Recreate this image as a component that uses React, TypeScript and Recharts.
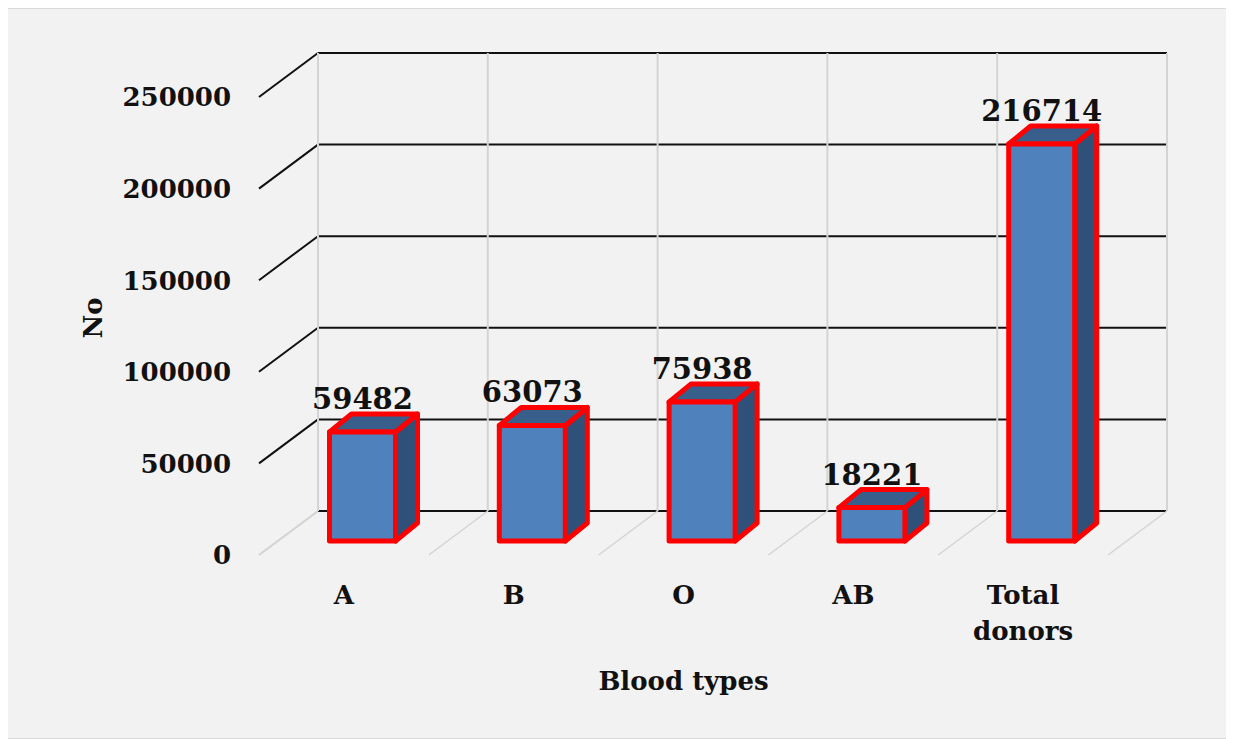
import React from 'react';
import { BarChart, Bar, XAxis, YAxis, CartesianGrid, LabelList } from 'recharts';

// values
const bloodTypes = ['A', 'B', 'O', 'AB', 'Total donors'];
const donorCounts = [59482, 63073, 75938, 18221, 216714];
const yTicks = [0, 50000, 100000, 150000, 200000, 250000];

const chartData = bloodTypes.map((type, i) => ({ type, donors: donorCounts[i] }));

const FONT = '"DejaVu Serif", "Liberation Serif", serif';

// back wall offset from the front plane
const WALL_DX = 59;
const WALL_DY = 44;
// bar front face offset and bar depth
const BAR_DX = 18.5;
const BAR_DY = 14;
const DEPTH_DX = 22;
const DEPTH_DY = 18;

const GREY = '#d4d4d4';

const HorizontalLine = (props: any) => {
  const { x1, y1, x2, y, height, index } = props;
  const isZero = Math.abs(y1 - (y + height)) < 0.5;
  return (
    <g key={`h-${index}`}>
      <line
        x1={x1}
        y1={y1}
        x2={x1 + WALL_DX}
        y2={y1 - WALL_DY}
        stroke={isZero ? GREY : '#111'}
        strokeWidth={2}
      />
      <line
        x1={x1 + WALL_DX}
        y1={y1 - WALL_DY}
        x2={x2 + WALL_DX}
        y2={y1 - WALL_DY}
        stroke="#111"
        strokeWidth={2}
      />
    </g>
  );
};

const VerticalLine = (props: any) => {
  const { x1, x, y, height, width, index } = props;
  const n = bloodTypes.length;
  const band = width / n;
  // only band centres: draw the category boundaries around them
  const pos = (x1 - x) / band - 0.5;
  const k = Math.round(pos);
  if (Math.abs(pos - k) > 0.1 || k < 0 || k >= n) return <g key={`v-${index}`} />;
  const edges = [x1 - band / 2];
  if (k === n - 1) edges.push(x1 + band / 2);
  const bottom = y + height;
  return (
    <g key={`v-${index}`}>
      {edges.map((ex, i) => (
        <g key={i}>
          <line
            x1={ex + WALL_DX}
            y1={y - WALL_DY}
            x2={ex + WALL_DX}
            y2={bottom - WALL_DY}
            stroke={GREY}
            strokeWidth={2}
          />
          <line
            x1={ex + WALL_DX}
            y1={bottom - WALL_DY}
            x2={ex}
            y2={bottom}
            stroke={GREY}
            strokeWidth={1.5}
          />
        </g>
      ))}
    </g>
  );
};

const Box3D = (props: any) => {
  const { x, y, width, height } = props;
  const fx = x + BAR_DX;
  const fy = y - BAR_DY;
  const w = width;
  const h = height;
  const top = `M${fx},${fy} L${fx + DEPTH_DX},${fy - DEPTH_DY} L${fx + w + DEPTH_DX},${fy - DEPTH_DY} L${fx + w},${fy} Z`;
  const side = `M${fx + w},${fy} L${fx + w + DEPTH_DX},${fy - DEPTH_DY} L${fx + w + DEPTH_DX},${fy + h - DEPTH_DY} L${fx + w},${fy + h} Z`;
  return (
    <g stroke="#ff0000" strokeWidth={5} strokeLinejoin="round">
      <path d={side} fill="#2f5179" />
      <path d={top} fill="#385f8b" />
      <rect x={fx} y={fy} width={w} height={h} fill="#4f81bd" />
    </g>
  );
};

const ValueLabel = (props: any) => {
  const { x, y, width, value } = props;
  return (
    <text
      x={x + width / 2 + BAR_DX}
      y={y - 37}
      textAnchor="middle"
      fontFamily={FONT}
      fontWeight="bold"
      fontSize={29}
      fill="#111"
    >
      {value}
    </text>
  );
};

const YTick = (props: any) => {
  const { x, y, payload } = props;
  return (
    <text
      x={x}
      y={y}
      dy="0.36em"
      textAnchor="end"
      fontFamily={FONT}
      fontWeight="bold"
      fontSize={26}
      fill="#111"
    >
      {payload.value}
    </text>
  );
};

const XTick = (props: any) => {
  const { x, y, payload } = props;
  const lines = String(payload.value).split(' ');
  return (
    <text
      x={x}
      y={y + 49}
      textAnchor="middle"
      fontFamily={FONT}
      fontWeight="bold"
      fontSize={26}
      fill="#111"
    >
      {lines.map((ln, i) => (
        <tspan key={i} x={x} dy={i === 0 ? 0 : 36}>
          {ln}
        </tspan>
      ))}
    </text>
  );
};

const XTitle = (props: any) => {
  const { viewBox } = props;
  return (
    <text
      x={viewBox.x + viewBox.width / 2}
      y={viewBox.y + 135}
      textAnchor="middle"
      fontFamily={FONT}
      fontWeight="bold"
      fontSize={26}
      fill="#111"
    >
      Blood types
    </text>
  );
};

const YTitle = (props: any) => {
  const { viewBox } = props;
  const cx = viewBox.x + 4;
  const cy = viewBox.y + viewBox.height / 2 - 8;
  return (
    <text
      x={cx}
      y={cy}
      transform={`rotate(-90 ${cx} ${cy})`}
      textAnchor="middle"
      dominantBaseline="central"
      fontFamily={FONT}
      fontWeight="bold"
      fontSize={26}
      fill="#111"
    >
      No
    </text>
  );
};

export default function App() {
  return (
    <div
      style={{
        marginLeft: -1,
        width: 1219,
        height: 729,
        border: '1px solid #d9d9d9',
        background: '#f2f2f2',
      }}
    >
      <BarChart
        width={1219}
        height={729}
        data={chartData}
        margin={{ top: 88, right: 119, bottom: 33, left: 81 }}
      >
        <CartesianGrid horizontal={HorizontalLine} vertical={VerticalLine} />
        <XAxis
          dataKey="type"
          height={150}
          axisLine={false}
          tickLine={false}
          tickSize={0}
          tickMargin={0}
          interval={0}
          tick={XTick}
          label={XTitle}
        />
        <YAxis
          width={170}
          domain={[0, 250000]}
          ticks={yTicks}
          axisLine={false}
          tickLine={false}
          tickSize={0}
          tickMargin={28}
          tick={YTick}
          label={YTitle}
        />
        <Bar dataKey="donors" barSize={66} shape={Box3D} isAnimationActive={false}>
          <LabelList dataKey="donors" content={ValueLabel} />
        </Bar>
      </BarChart>
    </div>
  );
}
